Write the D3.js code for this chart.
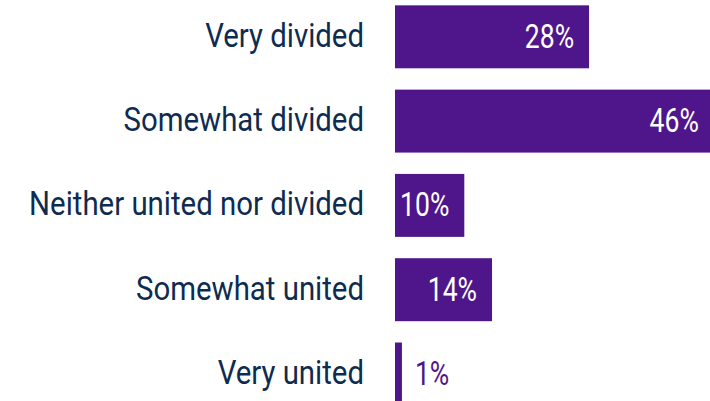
<!DOCTYPE html>
<html><head><meta charset="utf-8">
<script src="https://cdn.jsdelivr.net/npm/d3@7"></script>
<style>html,body{margin:0;padding:0;background:#fff;overflow:hidden}</style>
</head><body>
<svg id="chart" width="710" height="401"></svg>
<script>
const categories = ["Very divided","Somewhat divided","Neither united nor divided","Somewhat united","Very united"];
const values = [28, 46, 10, 14, 1];
const valueLabels = ["28%","46%","10%","14%","1%"];

const W = 710, H = 401;
const BAR = "#4f168b", NAVY = "#0e2b50";
const svg = d3.select("#chart");

const x = d3.scaleLinear().domain([0, 46]).range([395, 713.8]);
const y = d3.scaleBand().domain(categories).range([-16, 426.8]).paddingInner(0.253).paddingOuter(0.253);

svg.selectAll("rect.bar").data(categories).join("rect")
  .attr("class","bar")
  .attr("x", x(0))
  .attr("y", d => y(d))
  .attr("width", (d,i) => x(values[i]) - x(0))
  .attr("height", y.bandwidth())
  .attr("fill", BAR);

// category labels
const LABEL_RIGHT = 364, LABEL_MAX_W = 335;
const lab = svg.selectAll("text.cat").data(categories).join("text")
  .attr("class","cat")
  .attr("font-family","Roboto, 'Noto Sans', sans-serif")
  .attr("font-size", 34)
  .attr("fill", NAVY)
  .attr("text-anchor","end")
  .text(d => d);
let maxW = 0;
lab.each(function(){ maxW = Math.max(maxW, this.getComputedTextLength()); });
const kx = LABEL_MAX_W / maxW;
lab.attr("transform", d => `translate(${LABEL_RIGHT},${y(d) + y.bandwidth()/2 + 10}) scale(${kx},1)`);

// value labels
const VK = 0.78;
svg.selectAll("text.val").data(categories).join("text")
  .attr("class","val")
  .attr("font-family","Roboto, 'Noto Sans', sans-serif")
  .attr("font-size", 34)
  .attr("font-weight", 400)
  .attr("fill", (d,i) => values[i] < 5 ? BAR : "#ffffff")
  .attr("text-anchor", (d,i) => values[i] < 5 ? "start" : "end")
  .attr("transform", (d,i) => {
    const xe = Math.min(x(values[i]), W);
    const tx = values[i] < 5 ? xe + 13 : x(values[i]) - 15;
    return `translate(${tx},${y(d) + y.bandwidth()/2 + 11}) scale(${VK},1)`;
  })
  .text((d,i) => valueLabels[i]);
</script>
</body></html>
